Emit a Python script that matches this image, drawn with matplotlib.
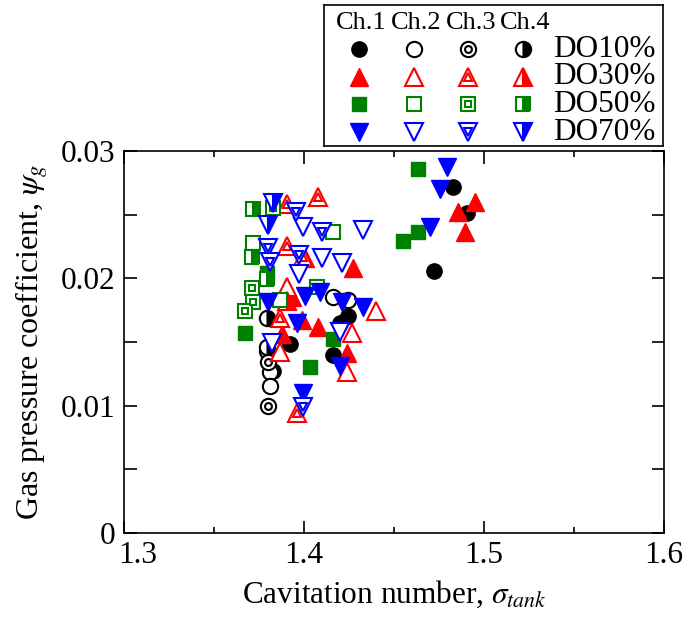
import matplotlib.pyplot as plt
import matplotlib.transforms as mtrans
from matplotlib.ticker import MultipleLocator

plt.rcParams['font.family'] = 'Liberation Serif'
plt.rcParams['mathtext.fontset'] = 'stix'

# DO10% (black circles)
do10_ch1_x = [1.4828, 1.4906, 1.4722, 1.4200, 1.4244, 1.3922, 1.4161, 1.3830]
do10_ch1_y = [0.0272, 0.0251, 0.0206, 0.0165, 0.0170, 0.0148, 0.0140, 0.0127]
do10_ch2_x = [1.4161, 1.4244, 1.3811, 1.3811, 1.3794]
do10_ch2_y = [0.0185, 0.0183, 0.0126, 0.0115, 0.0143]
do10_ch3_x = [1.3800, 1.3800]
do10_ch3_y = [0.0100, 0.0134]
do10_ch4_x = [1.3794, 1.3794]
do10_ch4_y = [0.0169, 0.0146]

# DO30% (red triangles)
do30_ch1_x = [1.4950, 1.4856, 1.4894, 1.4272, 1.4006, 1.3933, 1.3989, 1.4078, 1.4239, 1.3878]
do30_ch1_y = [0.0260, 0.0252, 0.0236, 0.0208, 0.0216, 0.0185, 0.0167, 0.0162, 0.0141, 0.0156]
do30_ch2_x = [1.4400, 1.4267, 1.4239, 1.3867, 1.3906]
do30_ch2_y = [0.0174, 0.0157, 0.0126, 0.0142, 0.0193]
do30_ch3_x = [1.4078, 1.3906, 1.3906, 1.3994, 1.3867, 1.3961]
do30_ch3_y = [0.0264, 0.0258, 0.0225, 0.0217, 0.0169, 0.0094]
do30_ch4_x = [1.3906]
do30_ch4_y = [0.0182]

# DO50% (green squares)
do50_ch1_x = [1.4633, 1.4633, 1.4550, 1.3794, 1.3672, 1.4161, 1.4033]
do50_ch1_y = [0.0286, 0.0236, 0.0229, 0.0204, 0.0157, 0.0152, 0.0130]
do50_ch2_x = [1.4161, 1.3717, 1.4072, 1.3867]
do50_ch2_y = [0.0236, 0.0228, 0.0193, 0.0183]
do50_ch3_x = [1.3711, 1.3717, 1.3672, 1.3828]
do50_ch3_y = [0.0192, 0.0181, 0.0174, 0.0255]
do50_ch4_x = [1.3717, 1.3711, 1.3794]
do50_ch4_y = [0.0254, 0.0217, 0.0199]

# DO70% (blue inverted triangles)
do70_ch1_x = [1.4794, 1.4756, 1.4700, 1.4328, 1.4211, 1.4089, 1.4006, 1.3800, 1.3961, 1.4200, 1.3994]
do70_ch1_y = [0.0287, 0.0270, 0.0240, 0.0177, 0.0181, 0.0189, 0.0186, 0.0181, 0.0165, 0.0131, 0.0110]
do70_ch2_x = [1.4328, 1.3994, 1.4100, 1.4211, 1.3972, 1.4200, 1.3822]
do70_ch2_y = [0.0238, 0.0240, 0.0216, 0.0212, 0.0203, 0.0158, 0.0149]
do70_ch3_x = [1.3956, 1.4100, 1.3800, 1.3972, 1.3811, 1.3994]
do70_ch3_y = [0.0252, 0.0236, 0.0224, 0.0218, 0.0213, 0.0099]
do70_ch4_x = [1.3828, 1.3800]
do70_ch4_y = [0.0259, 0.0242]

groups = [
    ('DO10%', 'black', 'o', [(do10_ch1_x, do10_ch1_y), (do10_ch2_x, do10_ch2_y),
                             (do10_ch3_x, do10_ch3_y), (do10_ch4_x, do10_ch4_y)]),
    ('DO30%', 'red', '^', [(do30_ch1_x, do30_ch1_y), (do30_ch2_x, do30_ch2_y),
                           (do30_ch3_x, do30_ch3_y), (do30_ch4_x, do30_ch4_y)]),
    ('DO50%', 'green', 's', [(do50_ch1_x, do50_ch1_y), (do50_ch2_x, do50_ch2_y),
                             (do50_ch3_x, do50_ch3_y), (do50_ch4_x, do50_ch4_y)]),
    ('DO70%', 'blue', 'v', [(do70_ch1_x, do70_ch1_y), (do70_ch2_x, do70_ch2_y),
                            (do70_ch3_x, do70_ch3_y), (do70_ch4_x, do70_ch4_y)]),
]
channels = ['Ch.1', 'Ch.2', 'Ch.3', 'Ch.4']
sizes = {'o': 11, '^': 12.5, 's': 10.5, 'v': 12.5}


def draw(axis, x, y, color, marker, ch):
    ms = sizes[marker]
    if ch == 0:
        axis.plot(x, y, ls='none', marker=marker, ms=ms, mfc=color, mec=color, mew=1)
    elif ch == 1:
        axis.plot(x, y, ls='none', marker=marker, ms=ms, mfc='white', mec=color, mew=1.5)
    elif ch == 2:
        axis.plot(x, y, ls='none', marker=marker, ms=ms, mfc='white', mec=color, mew=1.5)
        axis.plot(x, y, ls='none', marker=marker, ms=ms * 0.45, mfc='white', mec=color, mew=1.5)
    else:
        axis.plot(x, y, ls='none', marker=marker, ms=ms, fillstyle='right',
                  mfc=color, mfcalt='white', mec=color, mew=1.5)


fig = plt.figure(figsize=(6.89, 6.21), dpi=100)
ax = fig.add_axes([0.180, 0.142, 0.784, 0.615])

for name, color, marker, series in groups:
    for ch, (x, y) in enumerate(series):
        draw(ax, x, y, color, marker, ch)

ax.set_xlim(1.3, 1.6)
ax.set_ylim(0, 0.03)
ax.set_xticks([1.3, 1.4, 1.5, 1.6])
ax.set_xticklabels(['1.3', '1.4', '1.5', '1.6'])
ax.set_yticks([0, 0.01, 0.02, 0.03])
ax.set_yticklabels(['0', '0.01', '0.02', '0.03'])
ax.xaxis.set_minor_locator(MultipleLocator(0.05))
ax.yaxis.set_minor_locator(MultipleLocator(0.005))
ax.tick_params(which='both', direction='in', top=True, right=True, labelsize=22.5, width=1.2)
ax.tick_params(axis='x', which='major', length=9, pad=6)
ax.tick_params(axis='x', which='minor', length=4.5)
ax.tick_params(axis='y', which='both', length=9, pad=6)
for s in ax.spines.values():
    s.set_linewidth(1.2)

# nudge the first x tick label right so it clears the "0"
first = ax.get_xticklabels()[0]
first.set_transform(first.get_transform() + mtrans.ScaledTranslation(10 / 72, 0, fig.dpi_scale_trans))

ax.set_xlabel(r'Cavitation number, $\sigma_{tank}$', fontsize=22.5, labelpad=6)
ax.set_ylabel(r'Gas pressure coefficient, $\psi_g$', fontsize=23, labelpad=8)

# legend box drawn by hand
lax = fig.add_axes([324 / 689, 1 - 146 / 621, 339 / 689, 141 / 621])
lax.set_xlim(-0.64, 5.57)
lax.set_ylim(-0.505, 4.6)
lax.set_xticks([])
lax.set_yticks([])
for s in lax.spines.values():
    s.set_linewidth(1.2)
for ci, label in enumerate(channels):
    lax.text(ci + 0.05, 3.95, label, ha='center', va='center', fontsize=19)
for ri, (name, color, marker, series) in enumerate(groups):
    for ci in range(4):
        draw(lax, [ci], [3 - ri], color, marker, ci)
    lax.text(3.55, 3 - ri, name, ha='left', va='center', fontsize=22.5)

fig.savefig('out.png', dpi=100)
